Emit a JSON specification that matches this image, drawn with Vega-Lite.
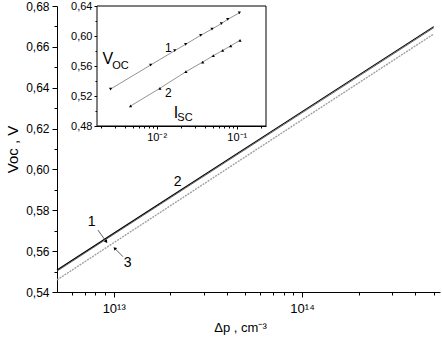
{
  "$schema": "https://vega.github.io/schema/vega-lite/v6.json",
  "width": 383,
  "height": 286,
  "autosize": "none",
  "padding": {"left": 57, "top": 6, "right": 2, "bottom": 52},
  "background": "white",
  "config": {
    "view": {"stroke": null},
    "font": "Liberation Sans",
    "axis": {"domainColor": "black", "tickColor": "black", "labelColor": "black", "titleColor": "black", "grid": false, "labelFont": "Liberation Sans", "titleFont": "Liberation Sans", "titleFontWeight": "normal", "labelFlush": false, "labelOverlap": false}
  },
  "datasets": {
    "main": [
      {"s": "2", "p": 5e12, "v": 0.5508}, {"s": "2", "p": 1e13, "v": 0.5688}, {"s": "2", "p": 1e14, "v": 0.6283}, {"s": "2", "p": 5e14, "v": 0.6699},
      {"s": "1", "p": 5e12, "v": 0.5502}, {"s": "1", "p": 1e13, "v": 0.5682}, {"s": "1", "p": 1e14, "v": 0.6277}, {"s": "1", "p": 5e14, "v": 0.6693},
      {"s": "3", "p": 5e12, "v": 0.5459}, {"s": "3", "p": 1e13, "v": 0.5641}, {"s": "3", "p": 1e14, "v": 0.6243}, {"s": "3", "p": 5e14, "v": 0.6663}
    ],
    "leaders": [
      {"l": "a", "p": 8.25e12, "v": 0.5703}, {"l": "a", "p": 9.14e12, "v": 0.5646},
      {"l": "b", "p": 1.12e13, "v": 0.5573}, {"l": "b", "p": 1.012e13, "v": 0.5614}
    ],
    "tips": [
      {"l": "a", "p": 9.14e12, "v": 0.5646},
      {"l": "b", "p": 1.012e13, "v": 0.5614}
    ],
    "mainLabels": [
      {"t": "1", "p": 7.64e12, "v": 0.5743},
      {"t": "3", "p": 1.186e13, "v": 0.5542},
      {"t": "2", "p": 2.186e13, "v": 0.5938}
    ],
    "frame": [{"i": 0.0018, "i2": 0.232, "w": 0.48, "w2": 0.64}],
    "inset": [
      {"s": "1", "i": 0.00266, "w": 0.5293}, {"s": "1", "i": 0.00841, "w": 0.5613}, {"s": "1", "i": 0.0168, "w": 0.5804},
      {"s": "1", "i": 0.0230, "w": 0.5889}, {"s": "1", "i": 0.0355, "w": 0.6009}, {"s": "1", "i": 0.0491, "w": 0.6093},
      {"s": "1", "i": 0.0642, "w": 0.6164}, {"s": "1", "i": 0.0772, "w": 0.6223}, {"s": "1", "i": 0.1078, "w": 0.6307},
      {"s": "2", "i": 0.00473, "w": 0.5067}, {"s": "2", "i": 0.0110, "w": 0.5303}, {"s": "2", "i": 0.0232, "w": 0.5524},
      {"s": "2", "i": 0.0376, "w": 0.5653}, {"s": "2", "i": 0.0510, "w": 0.5737}, {"s": "2", "i": 0.0668, "w": 0.5808},
      {"s": "2", "i": 0.0841, "w": 0.5869}, {"s": "2", "i": 0.110, "w": 0.5943}
    ],
    "insetLabels": [
      {"t": "V", "k": "big", "i": 0.00246, "w": 0.5693},
      {"t": "OC", "k": "sub", "i": 0.00353, "w": 0.5600},
      {"t": "I", "k": "big", "i": 0.0174, "w": 0.4973},
      {"t": "SC", "k": "sub", "i": 0.0226, "w": 0.4913},
      {"t": "1", "k": "num", "i": 0.01396, "w": 0.5844},
      {"t": "2", "k": "num", "i": 0.01396, "w": 0.5236}
    ]
  },
  "layer": [
    {
      "encoding": {
        "x": {
          "field": "p", "type": "quantitative",
          "scale": {"type": "log", "domain": [5e12, 5.4e14], "nice": false},
          "axis": {
            "title": "Δp , cm⁻³", "titleFontSize": 13, "titlePadding": 6, "titleX": 183,
            "values": [6e12, 7e12, 8e12, 9e12, 1e13, 2e13, 3e13, 4e13, 5e13, 6e13, 7e13, 8e13, 9e13, 1e14, 2e14, 3e14, 4e14, 5e14],
            "labelExpr": "datum.value == 1e13 ? '10¹³' : (datum.value == 1e14 ? '10¹⁴' : '')",
            "labelFontSize": 13, "labelPadding": 5,
            "tickSize": {"condition": {"test": "datum.value == 1e13 || datum.value == 1e14", "value": 5}, "value": 3}
          }
        },
        "y": {
          "field": "v", "type": "quantitative",
          "scale": {"domain": [0.54, 0.68], "nice": false, "zero": false},
          "axis": {
            "title": "Voc , V", "titleFontSize": 15, "titlePadding": 5,
            "values": [0.54, 0.55, 0.56, 0.57, 0.58, 0.59, 0.6, 0.61, 0.62, 0.63, 0.64, 0.65, 0.66, 0.67, 0.68],
            "labelExpr": "round(datum.value * 100) % 2 == 0 ? replace(format(datum.value, '.2f'), '.', ',') : ''",
            "labelFontSize": 12, "labelPadding": 3,
            "tickSize": {"condition": {"test": "round(datum.value * 100) % 2 == 0", "value": 5}, "value": 3}
          }
        }
      },
      "layer": [
        {"data": {"name": "main"}, "transform": [{"filter": "datum.s == '3'"}], "mark": {"type": "line", "color": "#a0a0a0", "strokeWidth": 1.4, "strokeDash": [2, 1]}, "encoding": {}},
        {"data": {"name": "main"}, "transform": [{"filter": "datum.s == '1'"}], "mark": {"type": "line", "color": "#555555", "strokeWidth": 0.9}, "encoding": {}},
        {"data": {"name": "main"}, "transform": [{"filter": "datum.s == '2'"}], "mark": {"type": "line", "color": "black", "strokeWidth": 1.1}, "encoding": {}},
        {"data": {"name": "leaders"}, "mark": {"type": "line", "color": "#333333", "strokeWidth": 0.8}, "encoding": {"detail": {"field": "l"}}},
        {"data": {"name": "tips"}, "transform": [{"filter": "datum.l == 'a'"}], "mark": {"type": "point", "shape": "triangle-up", "filled": true, "color": "black", "size": 14, "angle": 144, "opacity": 1}, "encoding": {}},
        {"data": {"name": "tips"}, "transform": [{"filter": "datum.l == 'b'"}], "mark": {"type": "point", "shape": "triangle-up", "filled": true, "color": "black", "size": 14, "angle": 315, "opacity": 1}, "encoding": {}},
        {"data": {"name": "mainLabels"}, "mark": {"type": "text", "fontSize": 14, "color": "black", "align": "center", "baseline": "middle"}, "encoding": {"text": {"field": "t"}}}
      ]
    },
    {
      "encoding": {
        "x": {
          "field": "i", "type": "quantitative",
          "scale": {"type": "log", "domain": [0.0018, 0.232], "range": [40, 209], "nice": false},
          "axis": {
            "title": null, "orient": "bottom", "offset": -166,
            "values": [0.002, 0.003, 0.004, 0.005, 0.006, 0.007, 0.008, 0.009, 0.01, 0.02, 0.03, 0.04, 0.05, 0.06, 0.07, 0.08, 0.09, 0.1, 0.2],
            "labelExpr": "datum.value == 0.01 ? '10⁻²' : (datum.value == 0.1 ? '10⁻¹' : '')",
            "labelFontSize": 11, "labelPadding": 2,
            "tickSize": {"condition": {"test": "datum.value == 0.01 || datum.value == 0.1", "value": 3}, "value": 2}
          }
        },
        "y": {
          "field": "w", "type": "quantitative",
          "scale": {"domain": [0.48, 0.64], "range": [120, 0], "nice": false, "zero": false},
          "axis": {
            "title": null, "orient": "left", "offset": -40,
            "values": [0.48, 0.5, 0.52, 0.54, 0.56, 0.58, 0.6, 0.62, 0.64],
            "labelExpr": "round(datum.value * 100) % 4 == 0 ? replace(format(datum.value, '.2f'), '.', ',') : ''",
            "labelFontSize": 11, "labelPadding": 2,
            "tickSize": {"condition": {"test": "round(datum.value * 100) % 4 == 0", "value": 3}, "value": 2}
          }
        }
      },
      "layer": [
        {"data": {"name": "frame"}, "mark": {"type": "rect", "fill": "white", "stroke": "black", "strokeWidth": 1}, "encoding": {"x2": {"field": "i2"}, "y2": {"field": "w2"}}},
        {"data": {"name": "inset"}, "mark": {"type": "line", "color": "#777777", "strokeWidth": 0.8}, "encoding": {"detail": {"field": "s"}}},
        {"data": {"name": "inset"}, "transform": [{"filter": "datum.s == '1'"}], "mark": {"type": "point", "shape": "triangle-down", "filled": true, "color": "black", "size": 10, "opacity": 1}, "encoding": {}},
        {"data": {"name": "inset"}, "transform": [{"filter": "datum.s == '2'"}], "mark": {"type": "point", "shape": "triangle-up", "filled": true, "color": "black", "size": 10, "opacity": 1}, "encoding": {}},
        {"data": {"name": "insetLabels"}, "transform": [{"filter": "datum.k == 'big'"}], "mark": {"type": "text", "fontSize": 16, "color": "black", "align": "center", "baseline": "middle"}, "encoding": {"text": {"field": "t"}}},
        {"data": {"name": "insetLabels"}, "transform": [{"filter": "datum.k == 'sub'"}], "mark": {"type": "text", "fontSize": 11, "color": "black", "align": "center", "baseline": "middle"}, "encoding": {"text": {"field": "t"}}},
        {"data": {"name": "insetLabels"}, "transform": [{"filter": "datum.k == 'num'"}], "mark": {"type": "text", "fontSize": 12, "color": "black", "align": "center", "baseline": "middle"}, "encoding": {"text": {"field": "t"}}}
      ]
    }
  ],
  "resolve": {
    "scale": {"x": "independent", "y": "independent"},
    "axis": {"x": "independent", "y": "independent"}
  }
}
